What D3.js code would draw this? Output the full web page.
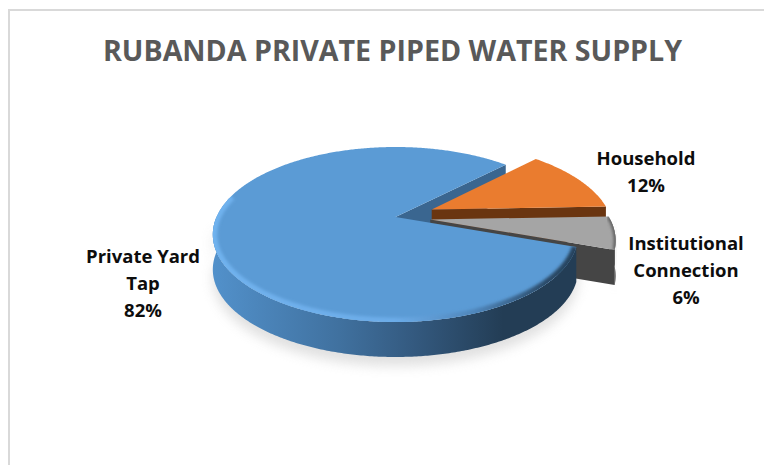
<!DOCTYPE html>
<html><head><meta charset="utf-8">
<script src="https://cdn.jsdelivr.net/npm/d3@7"></script>
<style>html,body{margin:0;padding:0;background:#fff}svg{display:block}
text{font-family:"Open Sans",sans-serif}</style></head>
<body><svg id="c" width="764" height="465"></svg>
<script>
const title = "RUBANDA PRIVATE PIPED WATER SUPPLY";
const categories = ["Household", "Institutional Connection", "Private Yard Tap"];
const values = [12, 6, 82];
const colors = ["#ea7c2f", "#a5a5a5", "#5b9bd5"];
const wallColors = ["#6a3510", "#454545", "#3a6690"];
const labelLines = [["Household","12%"],["Institutional","Connection","6%"],["Private Yard","Tap","82%"]];
const labelPos = [[646,165],[686,250],[143,263]];

const W=764,H=465, cx=395.5, cy=217, R=179, S=84, P=0.2, depth=35, explode=[0.225,0.195,0];
const svg=d3.select("#c");
const defs=svg.append("defs");
const rad=d3.scaleLinear().domain([0,360]).range([0,2*Math.PI]);
const slices=d3.pie().sort(null).value(d=>d).startAngle(rad(44.7)).endAngle(rad(404.7))(values);
const line=d3.line().curve(d3.curveLinearClosed);
const openLine=d3.line();
function proj(u,v,dz){const w=1/(1-P*v);return [cx+R*u*w, cy+S*v*w+(dz||0)];}
function off(s,i){const m=(s.startAngle+s.endAngle)/2;return [explode[i]*Math.sin(m),-explode[i]*Math.cos(m)];}
function rim(s,i,r,dz,a0,a1){const [du,dv]=off(s,i);const A=a0==null?s.startAngle:a0,B=a1==null?s.endAngle:a1;
  const n=Math.max(2,Math.ceil((B-A)/0.01));
  return d3.range(n+1).map(k=>{const a=A+(B-A)*k/n;return proj(du+r*Math.sin(a),dv-r*Math.cos(a),dz);});}
function topFace(s,i,r){const [du,dv]=off(s,i);return line([proj(du,dv),...rim(s,i,r||1,0)]);}
function endWall(s,i,a){const [du,dv]=off(s,i);const p=proj(du+Math.sin(a),dv-Math.cos(a));const q=proj(du,dv);
  return line([q,p,[p[0],p[1]+depth],[q[0],q[1]+depth]]);}
function sideWall(s,i,a0,a1){const t=rim(s,i,1,0,a0,a1),b=rim(s,i,1,depth,a0,a1).reverse();return line([...t,...b]);}

function blur(id,sd){defs.append("filter").attr("id",id).attr("x","-20%").attr("y","-20%").attr("width","140%").attr("height","140%")
  .append("feGaussianBlur").attr("stdDeviation",sd);}
blur("b1",1.5);blur("b5",6);
const grad=(id,stops)=>{const g=defs.append("linearGradient").attr("id",id).attr("gradientUnits","userSpaceOnUse")
  .attr("x1",212).attr("x2",576).attr("y1",0).attr("y2",0);
  stops.forEach(([o,c])=>g.append("stop").attr("offset",o).attr("stop-color",c));};
grad("wall",[[0,"#5291cb"],[.35,"#40719f"],[.55,"#345a80"],[.8,"#233d55"],[1,"#233d55"]]);
grad("bevel",[[0,"#70b2ee"],[.5,"#6cace8"],[.72,"#4f86bb"],[.92,"#2a4a68"],[1,"#26425c"]]);

// frame: top and left rules only
svg.append("path").attr("d",`M9,${H}V10H${W}`).attr("fill","none").attr("stroke","#d9d9d9").attr("stroke-width",2);

const [hh,ii,pp]=slices;
// shadow
svg.append("path").attr("d",sideWall(pp,2,Math.PI/2,Math.PI*1.5)).attr("transform","translate(0,9)").attr("fill","#bbb").attr("opacity",.45).attr("filter","url(#b5)");
svg.append("path").attr("d",sideWall(ii,1,Math.PI/2,ii.endAngle)).attr("transform","translate(0,6)").attr("fill","#bbb").attr("opacity",.45).attr("filter","url(#b5)");

// blue rear cut face
svg.append("path").attr("d",endWall(pp,2,pp.endAngle)).attr("fill",wallColors[2]);
// household
svg.append("path").attr("d",endWall(hh,0,hh.endAngle)).attr("fill",wallColors[0]);
svg.append("path").attr("d",topFace(hh,0)).attr("fill",colors[0]);
// institutional
svg.append("path").attr("d",sideWall(ii,1,Math.PI/2,ii.endAngle)).attr("fill",wallColors[1]);
svg.append("path").attr("d",endWall(ii,1,ii.endAngle)).attr("fill",wallColors[1]);
defs.append("clipPath").attr("id","greyClip").append("path").attr("d",topFace(ii,1));
svg.append("path").attr("d",topFace(ii,1)).attr("fill",colors[1]);
svg.append("g").attr("clip-path","url(#greyClip)").append("path")
  .attr("d",openLine(rim(ii,1,1,0)))
  .attr("fill","none").attr("stroke","#5f5f5f").attr("stroke-width",4).attr("filter","url(#b1)");
// private yard tap
svg.append("path").attr("d",sideWall(pp,2,pp.startAngle,Math.PI*1.5)).attr("fill","url(#wall)");
defs.append("clipPath").attr("id","faceClip").append("path").attr("d",topFace(pp,2));
svg.append("path").attr("d",topFace(pp,2)).attr("fill",colors[2]);
svg.append("g").attr("clip-path","url(#faceClip)").append("path")
  .attr("d",openLine(rim(pp,2,1,0,pp.startAngle,rad(285))))
  .attr("fill","none").attr("stroke","url(#bevel)").attr("stroke-width",9).attr("filter","url(#b1)");

// text
svg.append("text").attr("x",392.5).attr("y",61).attr("text-anchor","middle").attr("font-size",28.6).attr("font-weight",700).attr("fill","#595959").text(title);
labelLines.forEach((ls,i)=>{const t=svg.append("text").attr("text-anchor","middle").attr("font-size",18.5).attr("font-weight",700).attr("fill","#0d0d0d");
  ls.forEach((l,k)=>t.append("tspan").attr("x",labelPos[i][0]).attr("y",labelPos[i][1]+k*27).text(l));});
</script></body></html>
